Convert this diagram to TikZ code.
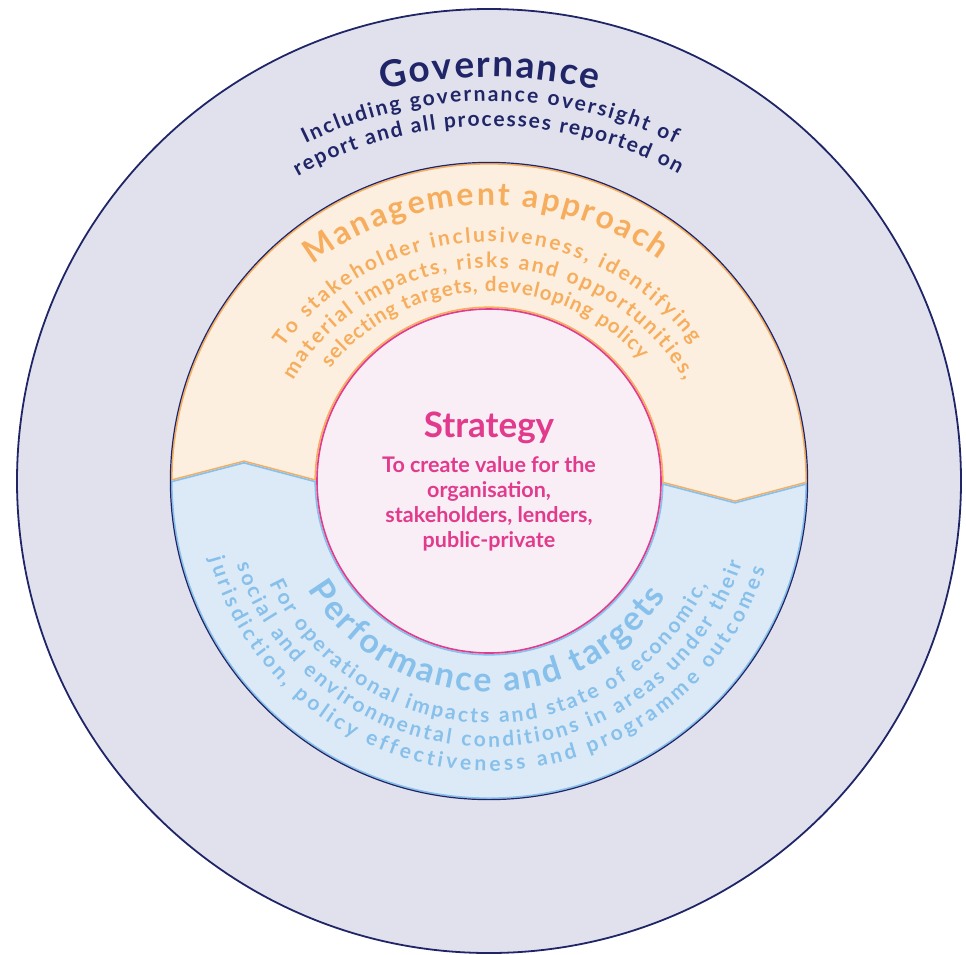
\documentclass[tikz,border=0pt]{standalone}
\usepackage{fontspec}
\setmainfont{Lato}
\usetikzlibrary{decorations.text,positioning}

\definecolor{govfill}{HTML}{E1E1EE}
\definecolor{govline}{HTML}{1F2567}
\definecolor{mgmtfill}{HTML}{FDEFDF}
\definecolor{mgmtline}{HTML}{F6AE5E}
\definecolor{perffill}{HTML}{DCEAF8}
\definecolor{perfline}{HTML}{86C0EB}
\definecolor{stratfill}{HTML}{F9EEF5}
\definecolor{stratline}{HTML}{E23A8C}
\newcommand\sizept[1]{\fontsize{#1}{#1}\selectfont}

\begin{document}
\begin{tikzpicture}[
	arctext/.style 2 args={decorate,decoration={text along path,text align={fit to path},text color=#1,text={#2}}},
	strattitle/.style={text=stratline,font=\bfseries\sizept{35}},
	strattext/.style={text=stratline,align=center,font=\bfseries\fontsize{21.5}{24.7}\selectfont}]
	\useasboundingbox (0,0) rectangle (966pt,-954pt);
	\coordinate (c) at (489pt,-481pt);
	\def\mgmtband{(180:318pt) -- (-245pt,19pt) -- (180:173pt) arc[start angle=180,end angle=-0.66,radius=173pt]
		-- (246pt,-21pt) -- (-0.36:318pt) arc[start angle=-0.36,end angle=180,radius=318pt] -- cycle}
	\def\perfband{(180:318pt) -- (-245pt,19pt) -- (180:173pt) arc[start angle=180,end angle=359.34,radius=173pt]
		-- (246pt,-21pt) -- (359.64:318pt) arc[start angle=359.64,end angle=180,radius=318pt] -- cycle}
	\begin{scope}[shift={(c)}]
		\filldraw[fill=govfill,draw=govline,line width=1.8pt] (0,0) circle[radius=472pt];
		\begin{scope}
			\clip \mgmtband;
			\fill[mgmtfill] \mgmtband;
			\draw[mgmtline,line width=3.2pt] \mgmtband;
		\end{scope}
		\begin{scope}
			\clip \perfband;
			\fill[perffill] \perfband;
			\draw[perfline,line width=3.2pt] \perfband;
		\end{scope}
		\draw[govline,line width=1.2pt] (0,0) circle[radius=318.6pt];
		\filldraw[fill=stratfill,draw=stratline,line width=1.6pt] (0,0) circle[radius=172pt];
		\node[strattitle,anchor=base] (strategy) at (0pt,44pt) {Strategy};
		\node[strattext,anchor=base] (strategytext) at (0pt,-66pt) {To create value for the\\organisation,\\stakeholders, lenders,\\public-private};
	\end{scope}
	% governance
	\begin{scope}[shift={(490pt,-520pt)}]
		\path[arctext={govline}{|\bfseries\sizept{37}|Governance}] (104:443pt) arc[start angle=104,end angle=76,radius=443pt];
		\path[arctext={govline}{|\bfseries\sizept{21}|Including governance oversight of}] (116.1:419pt) arc[start angle=116.1,end angle=63.8,radius=419pt];
		\path[arctext={govline}{|\bfseries\sizept{21}|report and all processes reported on}] (119.2:394pt) arc[start angle=119.2,end angle=61.4,radius=394pt];
	\end{scope}
	% management approach
	\begin{scope}[shift={(489pt,-495pt)}]
		\path[arctext={mgmtline}{|\bfseries\sizept{32}|Management approach}] (127.4:290pt) arc[start angle=127.4,end angle=54.1,radius=290pt];
		\path[arctext={mgmtline}{|\bfseries\sizept{21}|To stakeholder inclusiveness, identifying}] (144.3:253pt) arc[start angle=144.3,end angle=36.5,radius=253pt];
		\path[arctext={mgmtline}{|\bfseries\sizept{21}|material impacts, risks and opportunities,}] (149.6:227pt) arc[start angle=149.6,end angle=30.1,radius=227pt];
		\path[arctext={mgmtline}{|\bfseries\sizept{20.5}|selecting targets, developing policy}] (141.5:203pt) arc[start angle=141.5,end angle=41.7,radius=203pt];
	\end{scope}
	% performance and targets
	\begin{scope}[shift={(c)}]
		\path[arctext={perfline}{|\bfseries\sizept{34}|Performance and targets}] (211:211pt) arc[start angle=211,end angle=327,radius=211pt];
		\path[arctext={perfline}{|\bfseries\sizept{21}|For operational impacts and state of economic,}] (205:242pt) arc[start angle=205,end angle=334.5,radius=242pt];
		\path[arctext={perfline}{|\bfseries\sizept{21}|social and environmental conditions in areas under their}] (198.4:266pt) arc[start angle=198.4,end angle=342,radius=266pt];
		\path[arctext={perfline}{|\bfseries\sizept{21}|jurisdiction, policy effectiveness and programme outcomes}] (195.6:290pt) arc[start angle=195.6,end angle=342.3,radius=290pt];
	\end{scope}
\end{tikzpicture}
\end{document}
